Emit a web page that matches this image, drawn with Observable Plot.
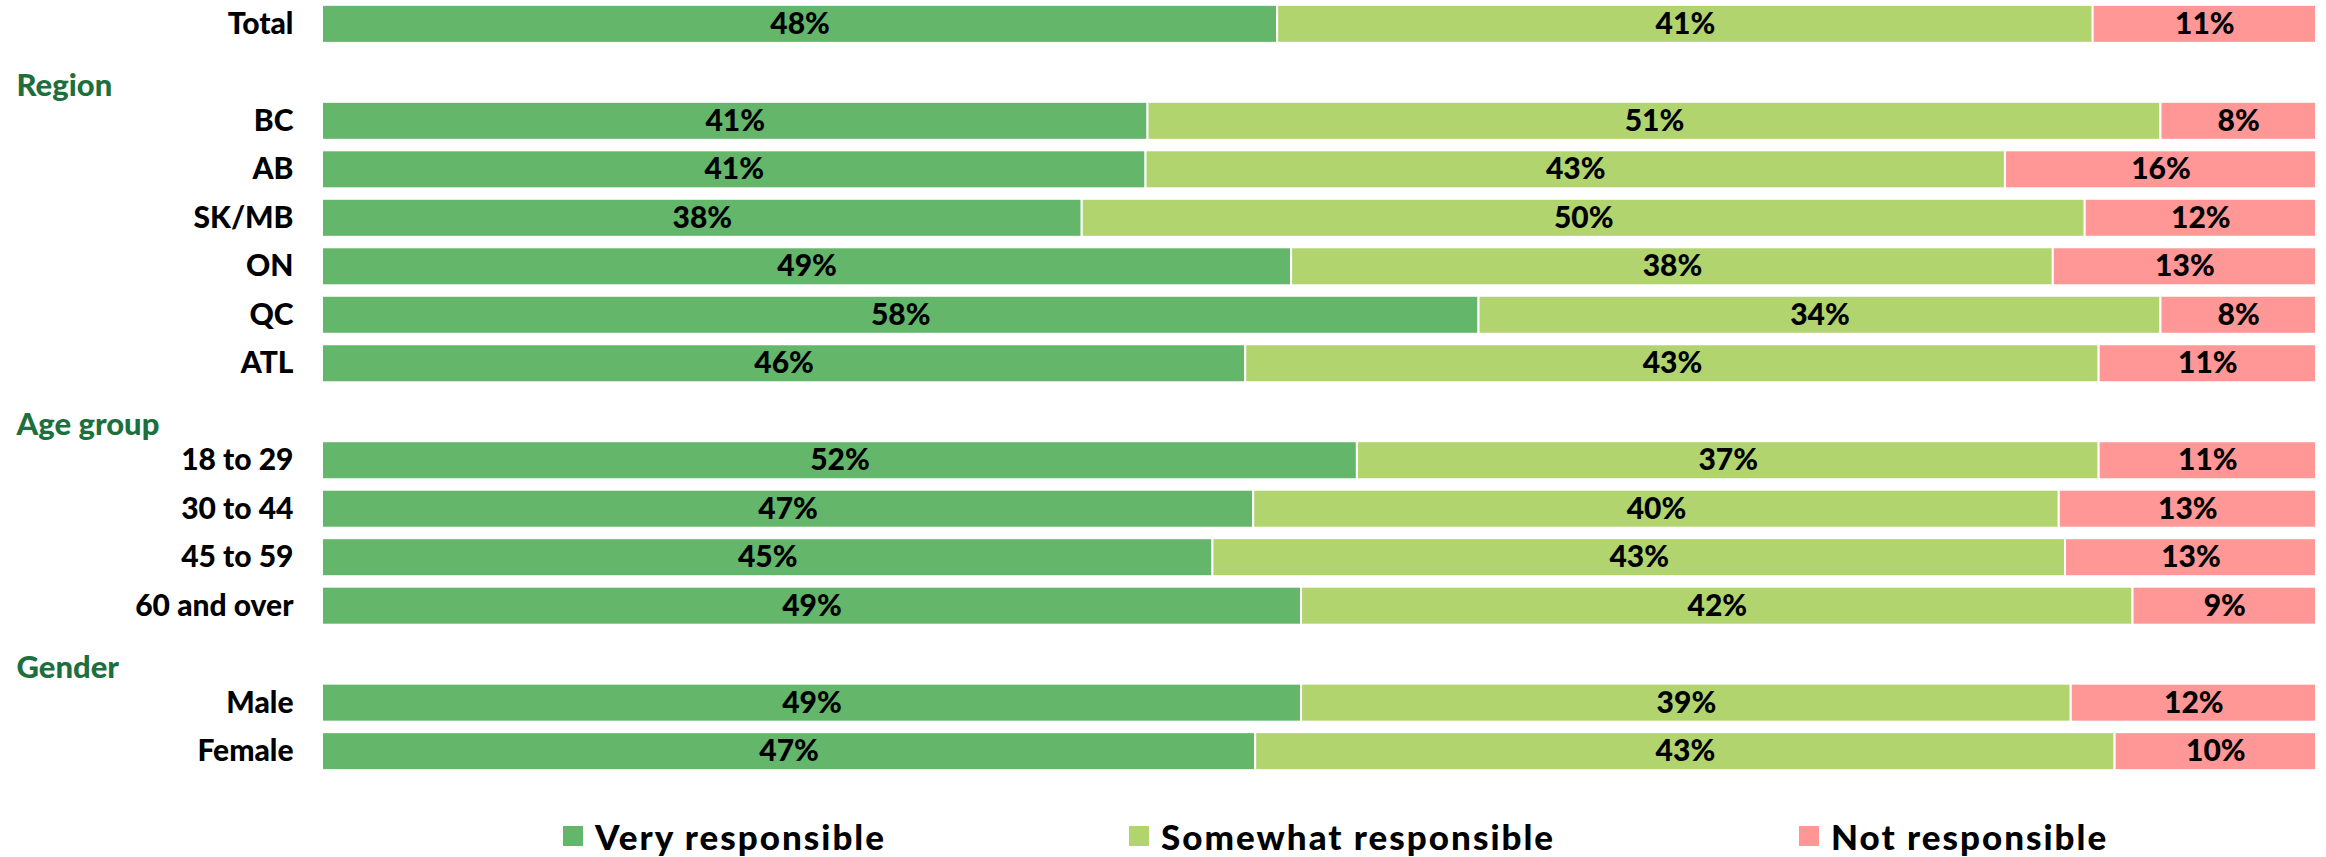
<!DOCTYPE html>
<html>
<head>
<meta charset="utf-8">
<script src="https://cdn.jsdelivr.net/npm/d3@7"></script>
<script src="https://cdn.jsdelivr.net/npm/@observablehq/plot@0.6"></script>
<style>
  html, body { margin: 0; padding: 0; background: #fff; }
  body { width: 2326px; font-family: Lato, "Open Sans", sans-serif; }
  #chart svg { display: block; }
  #legend { position: relative; width: 2326px; height: 67px; }
  .item { position: absolute; top: 21px; height: 50px; display: flex; align-items: center;
          font-size: 35px; font-weight: 900; letter-spacing: 2px; color: #000; white-space: nowrap; }
  .sw { width: 20px; height: 20px; margin-right: 12px; }
</style>
</head>
<body>
<div id="chart"></div>
<div id="legend"></div>
<script>
// Rows (headers are spacer rows with a group title)
const categories = ["Total", "Region", "BC", "AB", "SK/MB", "ON", "QC", "ATL",
  "Age group", "18 to 29", "30 to 44", "45 to 59", "60 and over",
  "Gender", "Male", "Female"];
const headers = ["Region", "Age group", "Gender"];
const rows = ["Total", "BC", "AB", "SK/MB", "ON", "QC", "ATL",
  "18 to 29", "30 to 44", "45 to 59", "60 and over", "Male", "Female"];
// Shares (%)
const veryResponsible     = [47.9, 41.4, 41.3, 38.1, 48.6, 58.0, 46.3, 51.9, 46.7, 44.7, 49.1, 49.1, 46.8];
const somewhatResponsible = [40.9, 50.8, 43.1, 50.3, 38.2, 34.2, 42.8, 37.2, 40.4, 42.8, 41.7, 38.6, 43.1];
const notResponsible      = [11.2,  7.8, 15.6, 11.6, 13.2,  7.8, 10.9, 10.9, 12.9, 12.6,  9.2, 12.3, 10.1];
const series = ["Very responsible", "Somewhat responsible", "Not responsible"];
const colors = ["#64b66a", "#b1d46f", "#ff9797"];

const seriesValues = [veryResponsible, somewhatResponsible, notResponsible];
const data = [];
rows.forEach((r, i) => series.forEach((s, j) => data.push({row: r, series: s, value: seriesValues[j][i]})));

const stackOpts = {x: "value", y: "row", z: "series", order: series, offset: "normalize"};

const chart = Plot.plot({
  width: 2326,
  height: 790,
  marginLeft: 322,
  marginRight: 10,
  marginTop: 0,
  marginBottom: 15,
  style: {fontFamily: "Lato, 'Open Sans', sans-serif", fontSize: "30px", fontWeight: "900", color: "#000", background: "#fff"},
  x: {axis: null, domain: [0, 1]},
  y: {domain: categories, paddingInner: 0.216, paddingOuter: 0.1, round: false, axis: null},
  color: {domain: series, range: colors},
  marks: [
    Plot.barX(data, Plot.stackX({...stackOpts, fill: "series", stroke: "#fff", strokeWidth: 2})),
    Plot.text(data, Plot.stackX({...stackOpts, text: d => Math.round(d.value) + "%",
      fill: "#000", fontSize: 30, fontWeight: 900})),
    Plot.axisY({label: null, tickSize: 0, tickPadding: 29, fontSize: 30, fontWeight: 900,
      tickFormat: d => headers.includes(d) ? "" : d}),
    Plot.text(headers, {y: d => d, text: d => d, frameAnchor: "left", dx: -306, dy: 13,
      textAnchor: "start", fill: "#1d6f3d", fontSize: 31, fontWeight: 900, letterSpacing: 1})
  ]
});
document.getElementById("chart").appendChild(chart);

const legend = document.getElementById("legend");
const legendLeft = [563, 1129, 1799];
series.forEach((s, i) => {
  const it = document.createElement("div");
  it.className = "item";
  it.style.left = legendLeft[i] + "px";
  const sw = document.createElement("div");
  sw.className = "sw";
  sw.style.background = colors[i];
  it.appendChild(sw);
  const t = document.createElement("span");
  t.textContent = s;
  it.appendChild(t);
  legend.appendChild(it);
});
</script>
</body>
</html>
